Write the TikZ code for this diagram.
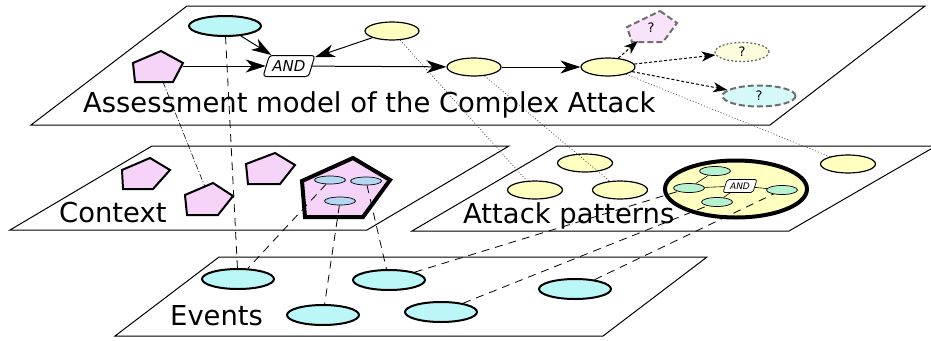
\documentclass[tikz,border=0pt]{standalone}
\usepackage{fontspec}
\setmainfont{DejaVu Sans}
\usetikzlibrary{shapes.geometric,arrows.meta,calc}
\definecolor{cyanf}{RGB}{187,247,247}
\definecolor{pinkf}{RGB}{246,212,250}
\definecolor{yelf}{RGB}{255,255,192}
\definecolor{bluef}{RGB}{180,215,242}
\definecolor{greenf}{RGB}{182,242,208}
\definecolor{qpinkf}{RGB}{249,227,251}
\definecolor{qyelf}{RGB}{253,253,221}
\definecolor{qcyanf}{RGB}{213,248,248}
\definecolor{qgray}{RGB}{110,110,110}
\begin{document}
\begin{tikzpicture}[x=1pt,y=-1pt,
  plane/.style={draw=black,line width=1pt},
  lbl/.style={anchor=base west,inner sep=0pt,font=\fontsize{27.4}{32}\selectfont},
  evt/.style={ellipse,draw,line width=2pt,fill=cyanf,minimum width=72pt,minimum height=20pt,inner sep=0pt},
  yel/.style={ellipse,draw,line width=1.2pt,fill=yelf,minimum width=54pt,minimum height=18pt,inner sep=0pt},
  sblue/.style={ellipse,draw,line width=0.7pt,fill=bluef,minimum width=31pt,minimum height=8pt,inner sep=0pt},
  sgreen/.style={ellipse,draw,line width=0.7pt,fill=greenf,minimum width=31pt,minimum height=9pt,inner sep=0pt},
  pent/.style={draw,line width=2pt,fill=pinkf},
  bigpent/.style={draw,line width=4pt,fill=pinkf},
  qpent/.style={draw=qgray,line width=2pt,dash pattern=on 6pt off 3pt,fill=qpinkf},
  qyel/.style={ellipse,draw=qgray,line width=1.3pt,dash pattern=on 2pt off 2pt,fill=qyelf,minimum width=54pt,minimum height=19pt,inner sep=0pt,font=\fontsize{13}{13}\selectfont},
  qcyan/.style={ellipse,draw=qgray,line width=2pt,dash pattern=on 6pt off 3pt,fill=qcyanf,minimum width=73pt,minimum height=21pt,inner sep=0pt,font=\fontsize{13}{13}\selectfont},
  qlbl/.style={inner sep=0pt,font=\fontsize{13}{13}\selectfont},
  andbox/.style={trapezium,trapezium left angle=64,trapezium right angle=116,trapezium stretches=true,draw,line width=1pt,fill=white,rounded corners=3pt,minimum width=52pt,minimum height=21pt,inner sep=0pt,font=\fontsize{15}{15}\selectfont\itshape},
  andsmall/.style={trapezium,trapezium left angle=64,trapezium right angle=116,trapezium stretches=true,draw,line width=0.7pt,fill=white,rounded corners=2pt,minimum width=34pt,minimum height=13pt,inner sep=0pt,font=\fontsize{9}{9}\selectfont\itshape},
  arr/.style={line width=1pt,-{Stealth[length=20pt,width=13pt,inset=6pt]}},
  darr/.style={line width=1pt,dash pattern=on 3pt off 2pt,-{Stealth[length=14pt,width=10pt,inset=4pt]}},
  dotl/.style={draw=black!70,line width=0.7pt,dash pattern=on 1pt off 2pt},
  dashl/.style={line width=0.8pt,dash pattern=on 8pt off 6pt},
  ddot/.style={line width=0.6pt,dash pattern=on 6pt off 2pt on 1pt off 2pt},
  inl/.style={line width=0.6pt}]
\useasboundingbox (0,0) rectangle (931,340);
\clip (0,0) rectangle (931,340);
% planes
\draw[plane] (187,6) -- (925,6) -- (770,125) -- (31,125) -- cycle;
\draw[plane] (152,146) -- (509,146) -- (367,230) -- (10,230) -- cycle;
\draw[plane] (557,146) -- (936,146) -- (789,231) -- (412,231) -- cycle;
\draw[plane] (219,257) -- (707,257) -- (603,336) -- (115,336) -- cycle;
% labels
\node[lbl] (ltop) at (83,112) {Assessment model of the Complex Attack};
\node[lbl] (lctx) at (59,222) {Context};
\node[lbl] (latt) at (463,223) {Attack patterns};
\node[lbl] (levt) at (170,325) {Events};
% top model
\node[evt] (t1) at (225,26) {};
\node[yel] (y1) at (392,31) {};
\node[yel] (y2) at (474,67) {};
\node[yel] (y3) at (608,67) {};
\node[andbox] (and) at (289,66) {AND};
\draw[pent] (161,51) -- (183,63) -- (173,82) -- (135,82) -- (133,63) -- cycle;
\coordinate (tp) at (157,67);
\coordinate (tpr) at (183,66);
\coordinate (tpb) at (163,82);
\draw[qpent] (660,11) -- (677,23) -- (663,42) -- (632,42) -- (627,27) -- cycle;
\node[qlbl] (q1) at (651,28) {?};
\coordinate (q1b) at (638,41);
\node[qyel] (q2) at (742,52) {?};
\node[qcyan] (q3) at (759,96) {?};
% context
\draw[pent] (150,158) -- (170,170) -- (153,189) -- (123,189) -- (122,170) -- cycle;
\coordinate (p1) at (147,175);
\draw[pent] (213,183) -- (233,196) -- (218,215) -- (187,215) -- (185,195) -- cycle;
\coordinate (p2) at (208,200);
\coordinate (p2t) at (205,187);
\draw[pent] (275,153) -- (295,165) -- (280,184) -- (248,184) -- (246,164) -- cycle;
\coordinate (p3) at (269,170);
\draw[bigpent] (353,158) -- (390,180) -- (363,217) -- (305,217) -- (302,181) -- cycle;
\coordinate (p4) at (345,190);
% attack patterns
\node[yel,minimum width=55pt] (a1) at (585,163) {};
\node[yel,minimum width=55pt] (a2) at (535,190) {};
\node[yel,minimum width=55pt] (a3) at (620,190) {};
\node[yel,minimum width=55pt] (a4) at (848,164) {};
\node[ellipse,draw,line width=4pt,fill=yelf,minimum width=142pt,minimum height=57pt,inner sep=0pt] (big) at (736,189) {};
\node[sgreen] (g1) at (715,171) {};
\node[sgreen] (g2) at (689,188) {};
\node[sgreen] (g3) at (717,202) {};
\node[sgreen] (g4) at (782,190) {};
\node[andsmall] (and2) at (740,186) {AND};
\draw[inl] (g1) -- (g2);
\draw[inl] (g2) -- (and2);
\draw[inl] (g3) -- (and2);
\draw[inl] (and2) -- (g4);
% events
\node[evt] (e1) at (238,279) {};
\node[evt] (e2) at (323,315) {};
\node[evt] (e3) at (389,280) {};
\node[evt] (e4) at (441,312) {};
\node[evt] (e5) at (575,289) {};
% inner context ellipses
\node[sblue] (s1) at (330,180) {};
\node[sblue] (s2) at (366,181) {};
\node[sblue] (s3) at (340,201) {};
% top arrows
\draw[arr] (t1) -- (and);
\draw[arr] (y1) -- (and);
\draw[arr] (tpr) -- (and);
\draw[arr] (and) -- (y2);
\draw[arr] (y2) -- (y3);
\draw[darr] (y3) -- (q1b);
\draw[darr] (y3) -- (q2);
\draw[darr] (y3) -- (q3);
% dotted links to attack patterns
\draw[dotl] (y1) -- (a2);
\draw[dotl] (y2) -- (a3);
\draw[dotl] (y3) -- (a4);
% dash-dot link to context
\draw[ddot] (tpb) -- (p2t);
% dashed links from events
\draw[dashl] (e1) -- (t1);
\draw[dashl] (s1) -- (e1);
\draw[dashl] (s2) -- (e3);
\draw[dashl] (s3) -- (e2);
\draw[dashl] (e3) -- (g2);
\draw[dashl] (e4) -- (g3);
\draw[dashl] (e5) -- (g4);
\end{tikzpicture}
\end{document}
